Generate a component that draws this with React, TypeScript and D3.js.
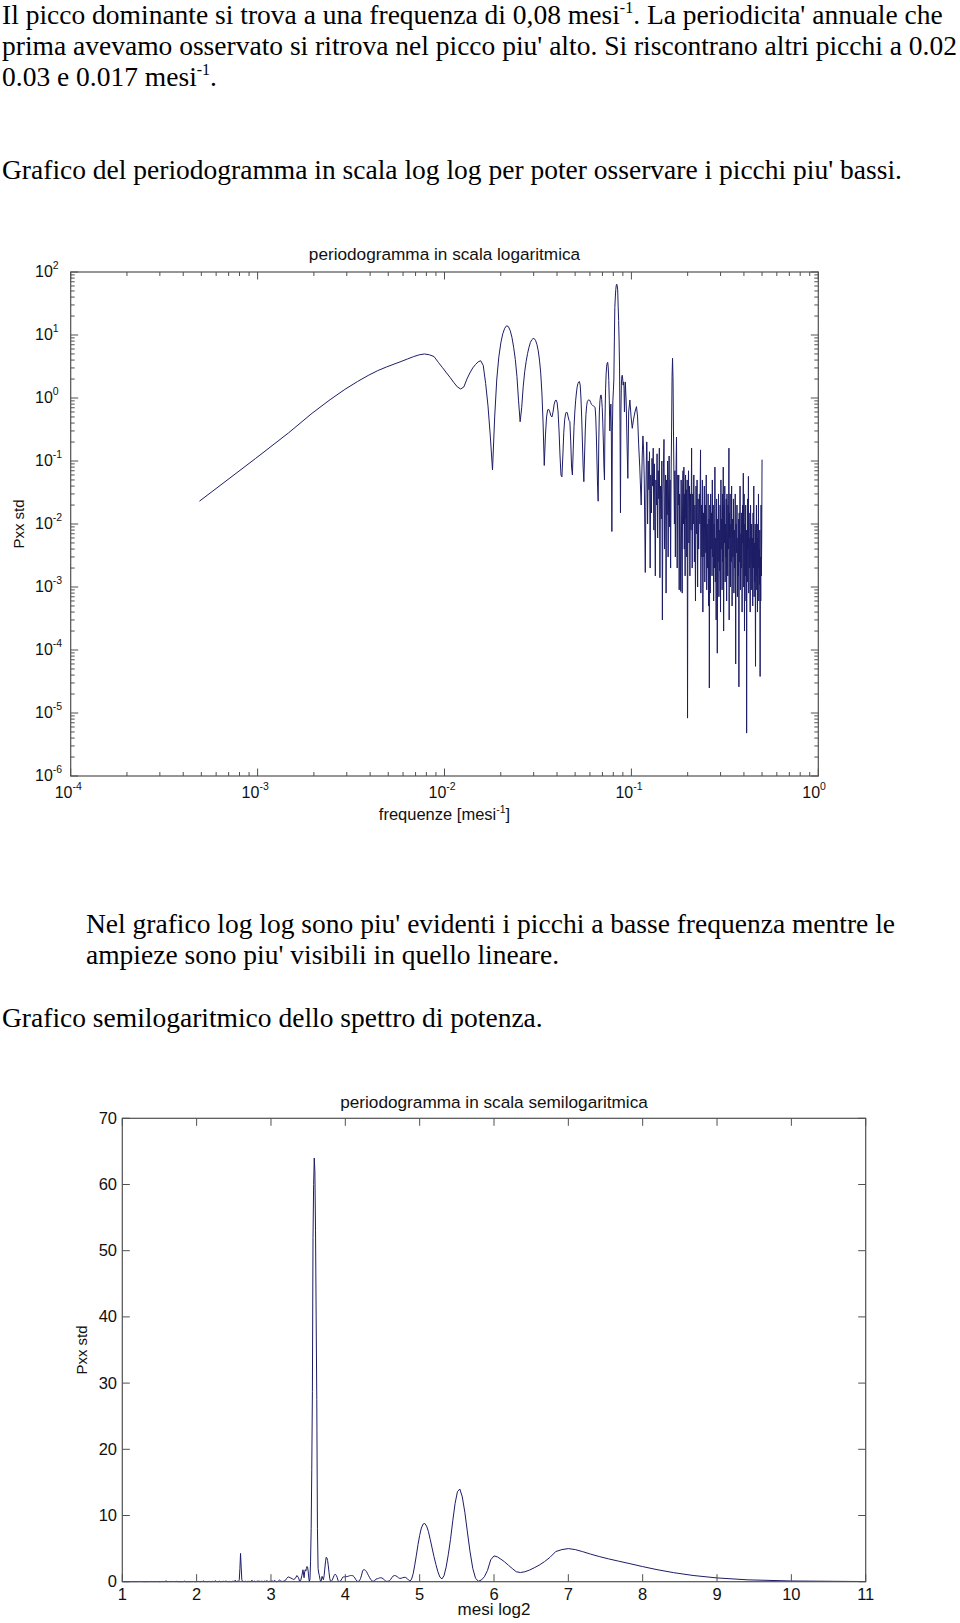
import React from 'react';
import * as d3 from 'd3';

// ---- data: periodogram of a 2048-month series, bin index k -> frequency k/2048 (mesi^-1)
const SAMPLES = 2048;

const lowBins = [1,2,3,4,5,6,7,8,9,10,11,12,13,14,15,16,17,18,19,20,21,22,23,24,25,26,27,28,29,30,31,32,33,34,35,36,37,38,39,40,41,42,43,44,45,46,47,48,49,50,51,52,53,54,55,56,57,58,59,60,61,62,63,64,65,66,67,68,69,70];
const lowPower = [0.023,0.11,0.28,0.57,0.94,1.37,1.82,2.28,2.72,3.1,3.45,3.8,4.17,4.54,4.85,5.0,4.85,4.55,3.67,3.02,2.5,2.1,1.75,1.5,1.39,1.5,2.0,2.5,3.0,3.4,3.75,3.9,3.3,1.7,0.75,0.25,0.072,0.5,2.0,4.5,7.5,10.5,12.8,14.0,13.6,11.8,9.2,6.4,4.1,2.2,0.9,0.42,0.7,1.5,2.6,3.8,5.1,6.4,7.6,8.4,8.8,8.7,8.1,7.0,5.6,4.0,2.5,1.2,0.4,0.085];

const midBins = [71,72,73,74,75,76,77,78,79,80,81,82,83,84,85,86,87,88,89,90,91,92,93,94,95,96,97,98,99,100,101,102,103,104,105,106,107,108,109,110,111,112,113,114,115,116,117,118,119,120,121,122,123,124,125,126,127,128,129,130,131,132,133,134,135,136,137,138,139,140,141,142,143,144,145,146,147,148,149,150,151,152,153,154,155,156,157,158,159,160,161,162,163,164,165,166,167,168,169,170,171,172,173,174,175,176,177,178,179,180,181,182,183,184,185,186,187,188,190,192,194,196,198,201,204,207,210,214,218,221,224,227,231,234,236,238,240,243,245,247];
const midPower = [0.25,0.5,0.65,0.66,0.6,0.52,0.5,0.6,0.78,0.9,0.93,0.85,0.6,0.3,0.12,0.06,0.056,0.12,0.28,0.45,0.56,0.6,0.58,0.5,0.44,0.42,0.2,0.08,0.06,0.15,0.35,0.6,0.9,1.2,1.5,1.7,1.8,1.82,1.6,1.0,0.5,0.2,0.08,0.047,0.12,0.3,0.55,0.75,0.88,0.92,0.93,0.93,0.9,0.85,0.8,0.78,0.76,0.75,0.74,0.73,0.7,0.5,0.25,0.1,0.04,0.023,0.2,0.6,0.9,1.08,1.12,0.95,0.7,0.4,0.2,0.08,0.05,0.5,1.4,2.4,3.2,3.6,3.69,3.0,1.9,0.9,0.3,0.5,0.8,0.25,0.0076,0.3,0.9,1.3,2.0,8,27.5,40,53,62,64,60,52,28.7,17,8,3,0.4,0.015,0.6,1.6,2.2,2.3,2.0,1.6,1.8,1.5,0.6,1.8,0.9,0.2,0.053,0.6,0.93,0.5,0.33,0.45,0.6,0.73,0.5,0.18,0.08,0.02,0.12,0.25,0.15,0.05,0.0017,0.03,0.2];

const highBins = [248,250,252,254,256,258,260,262,264,266,268,270,272,275,277,279,281,283,285,287,289,291,293,296,298,300,302,304,306,308,310,312,314,316,318,320,322,324,326,328,330,332,334,336,338,340,342,344,346,348,350,352,354,357,360,363,365,367,369,371,373,376,378,380,383,385,387,389,391,393,395,397,399,401,403,405,407,409,411,414,416,419,421,424,427,430,433,436,439,442,445,448,451,454,457,460,463,466,469,473,476,480,482,485,488,491,494,497,500,503,506,509,512,515,518,521,524,527,530,533,535,538,541,544,547,550,553,555,558,561,564,567,570,573,576,579,582,585,588,590,593,596,599,602,605,608,611,614,617,620,623,626,629,632,635,638,641,644,647,650,653,656,659,662,665,668,671,674,677,681,683,685,688,691,694,697,700,704,708,712,716,720,724,728,732,736,740,744,748,752,756,760,764,768,770,773,777,781,785,789,793,797,801,805,809,813,817,821,825,829,833,837,841,845,847,850,854,858,862,866,869,873,877,881,885,889,893,897,901,905,909,913,917,921,925,929,933,937,941,943,945,948,952,956,960,964,968,972,976,980,984,988,992,996,1000,1004,1008,1012,1016,1020,1024];
const highPower = [0.2,0.01,0.1,0.035,0.14,0.002,0.06,0.015,0.11,0.04,0.16,0.008,0.09,0.0015,0.05,0.02,0.13,0.006,0.07,0.025,0.16,0.0014,0.04,0.012,0.1,0.0003,0.03,0.08,0.22,0.004,0.02,0.06,0.0008,0.05,0.014,0.1,0.003,0.04,0.12,0.009,0.05,0.002,0.06,0.3,2.2,4.27,2.0,0.3,0.05,0.01,0.07,0.003,0.04,0.24,0.002,0.06,0.02,0.06,0.0009,0.03,0.008,0.00085,0.05,0.006,0.0008,0.04,0.07,0.01,0.08,0.004,0.03,0.0015,0.06,0.012,0.035,0.003,0.05,0.0000083,0.02,0.07,0.005,0.04,0.0015,0.03,0.008,0.16,0.002,0.03,0.01,0.06,0.0025,0.02,0.0006,0.04,0.007,0.05,0.001,0.025,0.004,0.03,0.01,0.15,0.0008,0.02,0.003,0.05,0.0004,0.015,0.003,0.04,0.0012,0.02,0.0035,0.06,0.0009,0.01,0.002,0.03,0.0005,0.012,0.000025,0.02,0.0008,0.03,0.004,0.015,0.0015,0.05,0.003,0.02,0.0006,0.01,0.002,0.08,0.0012,0.006,0.0003,0.025,0.003,0.000089,0.012,0.0025,0.03,0.0007,0.008,0.0018,0.02,0.0004,0.05,0.004,0.012,0.0009,0.03,0.0025,0.08,0.0002,0.02,0.005,0.04,0.0012,0.01,0.003,0.025,0.0006,0.03,0.008,0.0015,0.02,0.004,0.16,0.0003,0.015,0.006,0.03,0.001,0.01,0.0025,0.04,0.0005,0.012,0.003,0.025,0.0008,0.008,0.002,0.03,0.00006,0.01,0.0035,0.02,0.0007,0.006,0.0015,0.012,0.000026,0.015,0.0025,0.04,0.0009,0.007,0.002,0.015,0.0004,0.02,0.005,0.064,0.001,0.03,0.0002,0.01,0.0015,0.02,0.0006,0.008,0.0000048,0.005,0.0012,0.025,0.004,0.057,0.0008,0.015,0.002,0.006,0.0004,0.02,0.003,0.0009,0.01,0.0025,0.006,0.0005,0.015,0.002,0.04,0.0007,0.005,0.0012,0.01,0.0003,0.000055,0.008,0.0015,0.02,0.0009,0.006,0.0004,0.01,0.002,0.03,0.0006,0.004,0.0011,0.008,0.000038,0.003,0.0006,0.02,0.0015,0.006,0.105];

// ---- axis ticks
const logXDecades = [-4, -3, -2, -1, 0];
const logYDecades = [-6, -5, -4, -3, -2, -1, 0, 1, 2];
const minorMultipliers = [2, 3, 4, 5, 6, 7, 8, 9];
const linYTicks = [0, 10, 20, 30, 40, 50, 60, 70];
const linXTicks = [1, 2, 3, 4, 5, 6, 7, 8, 9, 10, 11];

// ---- texts
const TITLE_LOG = 'periodogramma in scala logaritmica';
const TITLE_SEMILOG = 'periodogramma in scala semilogaritmica';
const YLABEL = 'Pxx std';
const XLABEL_SEMILOG = 'mesi log2';

const SERIF = "'Liberation Serif', 'Times New Roman', serif";
const SANS = "'Liberation Sans', Arial, Helvetica, sans-serif";
const AXIS = '#505050';
const LINE = '#1d1d66';

export default function App() {
  const bins = [...lowBins, ...midBins, ...highBins];
  const power = [...lowPower, ...midPower, ...highPower];
  const data = bins.map((k, i) => ({
    f: k / SAMPLES,
    p: power[i],
    period: Math.log2(SAMPLES / k),
  }));

  // top log-log plot
  const T = { left: 70.7, right: 818.3, top: 272, bottom: 776 };
  const xT = d3.scaleLog().domain([1e-4, 1]).range([T.left, T.right]);
  const yT = d3.scaleLog().domain([1e-6, 1e2]).range([T.bottom, T.top]);
  const lineT = d3
    .line<{ f: number; p: number }>()
    .x((d) => xT(d.f))
    .y((d) => yT(d.p));

  // bottom semilog plot
  const B = { left: 122.3, right: 865.7, top: 1118.3, bottom: 1581.7 };
  const xB = d3.scaleLinear().domain([1, 11]).range([B.left, B.right]);
  const yB = d3.scaleLinear().domain([0, 70]).range([B.bottom, B.top]);
  const lineB = d3
    .line<{ period: number; p: number }>()
    .x((d) => xB(d.period))
    .y((d) => yB(d.p));
  const dataB = [...data].sort((a, b) => a.period - b.period);

  const majorLen = 7.5;
  const minorLen = 4;

  const xMinor: number[] = [];
  logXDecades.slice(0, -1).forEach((e) => minorMultipliers.forEach((m) => xMinor.push(m * Math.pow(10, e))));
  const yMinor: number[] = [];
  logYDecades.slice(0, -1).forEach((e) => minorMultipliers.forEach((m) => yMinor.push(m * Math.pow(10, e))));

  const para = (y: number, x: number, children: React.ReactNode) => (
    <text x={x} y={y} fontFamily={SERIF} fontSize={27.5} fill="#000">
      {children}
    </text>
  );

  return (
    <svg
      width={960}
      height={1623}
      style={{ position: 'absolute', left: 0, top: 0, background: '#fff' }}
      xmlns="http://www.w3.org/2000/svg"
    >
      <rect x={0} y={0} width={960} height={1623} fill="#fff" />

      {/* paragraphs */}
      {para(24, 2, (
        <>
          Il picco dominante si trova a una frequenza di 0,08 mesi
          <tspan dy={-11} fontSize={16}>-1</tspan>
          <tspan dy={11}>. La periodicita' annuale che</tspan>
        </>
      ))}
      {para(55, 2, "prima avevamo osservato si ritrova nel picco piu' alto. Si riscontrano altri picchi a 0.02")}
      {para(86, 2, (
        <>
          0.03 e 0.017 mesi
          <tspan dy={-11} fontSize={16}>-1</tspan>
          <tspan dy={11}>.</tspan>
        </>
      ))}
      {para(179, 2, "Grafico del periodogramma in scala log log per poter osservare i picchi piu' bassi.")}
      {para(933, 86, "Nel grafico log log sono piu' evidenti i picchi a basse frequenza mentre le")}
      {para(964, 86, "ampieze sono piu' visibili in quello lineare.")}
      {para(1027, 2, 'Grafico semilogaritmico dello spettro di potenza.')}

      {/* ===== top log-log chart ===== */}
      <g>
        <text x={(T.left + T.right) / 2} y={260} textAnchor="middle" fontFamily={SANS} fontSize={17.2} fill="#111">
          {TITLE_LOG}
        </text>
        <path d={lineT(data) || ''} fill="none" stroke={LINE} strokeWidth={1} strokeLinejoin="round" />
        <rect x={T.left} y={T.top} width={T.right - T.left} height={T.bottom - T.top} fill="none" stroke={AXIS} strokeWidth={1.2} />
        {logXDecades.map((e) => {
          const x = xT(Math.pow(10, e));
          return (
            <g key={'xt' + e}>
              <line x1={x} x2={x} y1={T.bottom} y2={T.bottom - majorLen} stroke={AXIS} />
              <line x1={x} x2={x} y1={T.top} y2={T.top + majorLen} stroke={AXIS} />
              <text x={x - 16} y={798} fontFamily={SANS} fontSize={16} fill="#111">
                10<tspan dy={-8} fontSize={10.5}>{String(e)}</tspan>
              </text>
            </g>
          );
        })}
        {xMinor.map((v, i) => {
          const x = xT(v);
          return (
            <g key={'xm' + i}>
              <line x1={x} x2={x} y1={T.bottom} y2={T.bottom - minorLen} stroke={AXIS} />
              <line x1={x} x2={x} y1={T.top} y2={T.top + minorLen} stroke={AXIS} />
            </g>
          );
        })}
        {logYDecades.map((e) => {
          const y = yT(Math.pow(10, e));
          return (
            <g key={'yt' + e}>
              <line x1={T.left} x2={T.left + majorLen} y1={y} y2={y} stroke={AXIS} />
              <line x1={T.right} x2={T.right - majorLen} y1={y} y2={y} stroke={AXIS} />
              <text x={35} y={y + 5} fontFamily={SANS} fontSize={16} fill="#111">
                10<tspan dy={-8} fontSize={10.5}>{String(e)}</tspan>
              </text>
            </g>
          );
        })}
        {yMinor.map((v, i) => {
          const y = yT(v);
          return (
            <g key={'ym' + i}>
              <line x1={T.left} x2={T.left + minorLen} y1={y} y2={y} stroke={AXIS} />
              <line x1={T.right} x2={T.right - minorLen} y1={y} y2={y} stroke={AXIS} />
            </g>
          );
        })}
        <text
          transform={`translate(24, ${(T.top + T.bottom) / 2}) rotate(-90)`}
          textAnchor="middle"
          fontFamily={SANS}
          fontSize={15}
          fill="#111"
        >
          {YLABEL}
        </text>
        <text x={(T.left + T.right) / 2} y={820} textAnchor="middle" fontFamily={SANS} fontSize={16.5} fill="#111">
          frequenze [mesi<tspan dy={-7} fontSize={10.5}>-1</tspan>
          <tspan dy={7}>]</tspan>
        </text>
      </g>

      {/* ===== bottom semilog chart ===== */}
      <g>
        <text x={(B.left + B.right) / 2} y={1108} textAnchor="middle" fontFamily={SANS} fontSize={17.2} fill="#111">
          {TITLE_SEMILOG}
        </text>
        <path d={lineB(dataB) || ''} fill="none" stroke={LINE} strokeWidth={1} strokeLinejoin="round" />
        <rect x={B.left} y={B.top} width={B.right - B.left} height={B.bottom - B.top} fill="none" stroke={AXIS} strokeWidth={1.2} />
        {linXTicks.map((v) => {
          const x = xB(v);
          return (
            <g key={'bx' + v}>
              <line x1={x} x2={x} y1={B.bottom} y2={B.bottom - majorLen} stroke={AXIS} />
              <line x1={x} x2={x} y1={B.top} y2={B.top + majorLen} stroke={AXIS} />
              <text x={x} y={1599.5} textAnchor="middle" fontFamily={SANS} fontSize={16.5} fill="#111">
                {v}
              </text>
            </g>
          );
        })}
        {linYTicks.map((v) => {
          const y = yB(v);
          return (
            <g key={'by' + v}>
              <line x1={B.left} x2={B.left + majorLen} y1={y} y2={y} stroke={AXIS} />
              <line x1={B.right} x2={B.right - majorLen} y1={y} y2={y} stroke={AXIS} />
              <text x={117} y={y + 5.5} textAnchor="end" fontFamily={SANS} fontSize={16.5} fill="#111">
                {v}
              </text>
            </g>
          );
        })}
        <text
          transform={`translate(87, ${(B.top + B.bottom) / 2}) rotate(-90)`}
          textAnchor="middle"
          fontFamily={SANS}
          fontSize={15}
          fill="#111"
        >
          {YLABEL}
        </text>
        <text x={(B.left + B.right) / 2} y={1615} textAnchor="middle" fontFamily={SANS} fontSize={17} fill="#111">
          {XLABEL_SEMILOG}
        </text>
      </g>
    </svg>
  );
}
